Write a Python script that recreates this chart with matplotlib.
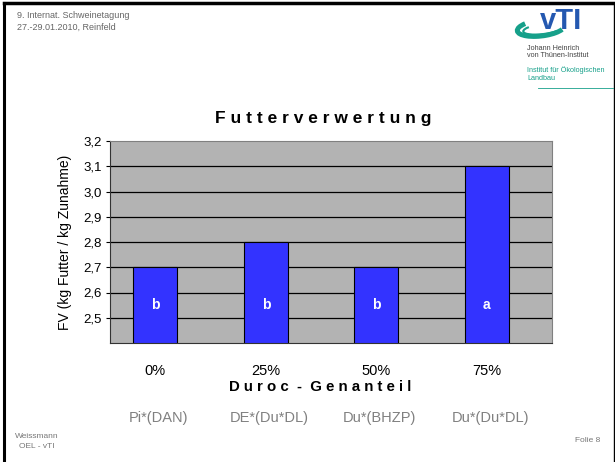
import matplotlib
matplotlib.use("Agg")
import matplotlib.pyplot as plt
from matplotlib.patches import Arc
from matplotlib.transforms import blended_transform_factory
import numpy as np

plt.rcParams['font.family'] = ['Liberation Sans', 'DejaVu Sans']

categories = ["0%", "25%", "50%", "75%"]
values = [2.7, 2.8, 2.7, 3.1]
letters = ["b", "b", "b", "a"]
breeds = ["Pi*(DAN)", "DE*(Du*DL)", "Du*(BHZP)", "Du*(Du*DL)"]
yticks = [2.5, 2.6, 2.7, 2.8, 2.9, 3.0, 3.1, 3.2]

W, H = 615, 462
fig = plt.figure(figsize=(W / 100, H / 100), dpi=100)
fig.patch.set_facecolor("white")

def fx(px):
    return px / W

def fy(py):
    return 1 - py / H

# slide border
fig.add_artist(plt.Line2D([fx(4), fx(4)], [0, fy(3)], color="black", lw=2.2))
fig.add_artist(plt.Line2D([fx(4), fx(614)], [fy(3), fy(3)], color="black", lw=2.5))
fig.add_artist(plt.Line2D([fx(613.5), fx(613.5)], [0, fy(3)], color="black", lw=1.0))

ax = fig.add_axes([fx(110), fy(343), fx(552) - fx(110), fy(141) - fy(343)])
ax.set_facecolor("#b3b3b3")
x = np.arange(len(categories))
ax.set_xlim(-0.41, 3.59)
ax.set_ylim(2.4, 3.2)
ax.set_yticks(yticks)
ax.set_yticklabels([f"{v:.1f}".replace(".", ",") for v in yticks], fontsize=9.5)
for v in yticks[:-1]:
    ax.axhline(v, color="black", lw=0.9, zorder=1)
ax.bar(x, values, width=0.4, color="#3333ff", edgecolor="black", linewidth=0.8, zorder=2)
ymin = ax.get_ylim()[0]
for xi, v, l in zip(x, values, letters):
    ax.text(xi, (ymin + min(values)) / 2, l, color="white", fontsize=10, fontweight="bold",
            ha="center", va="center", zorder=3)
ax.set_xticks(x)
ax.set_xticklabels(categories, fontsize=10.5)
ax.tick_params(axis="x", length=0, pad=15)
ax.tick_params(axis="y", length=3, width=0.8, pad=3)
for s in ["top", "right"]:
    ax.spines[s].set_color("#808080")
for s in ["left", "bottom"]:
    ax.spines[s].set_color("#333333")
ax.set_ylabel("FV (kg Futter / kg Zunahme)", fontsize=10, labelpad=8)

# title and x label
fig.text(fx(323), fy(118), "F u t t e r v e r w e r t u n g", fontsize=12.5, fontweight="bold",
         ha="center", va="center")
fig.text(fx(320), fy(387), "D u r o c  -  G e n a n t e i l", fontsize=10.8, fontweight="bold",
         ha="center", va="center")

# breed labels, centred under the bars
trans = blended_transform_factory(ax.transData, fig.transFigure)
for xi, b in zip(x, breeds):
    ax.text(xi + 0.03, fy(418), b, fontsize=10.5, color="#808080", ha="center", va="center",
            transform=trans, clip_on=False)

# header / footer
fig.text(fx(17), fy(15), "9. Internat. Schweinetagung", fontsize=6.5, color="#666666", va="center")
fig.text(fx(17), fy(27), "27.-29.01.2010, Reinfeld", fontsize=6.5, color="#666666", va="center")
fig.text(fx(15), fy(436), "Weissmann", fontsize=6, color="#777777", va="center")
fig.text(fx(19), fy(447), "OEL - vTI", fontsize=6, color="#777777", va="center")
fig.text(fx(600), fy(441), "Folie 8", fontsize=6, color="#777777", va="center", ha="right")

# logo
teal = "#16a08a"
fig.add_artist(Arc((fx(541), fy(28)), fx(48), 16 / H, angle=10, theta1=150, theta2=345,
                   color=teal, lw=3.5))
fig.add_artist(Arc((fx(543), fy(29)), fx(40), 10 / H, angle=10, theta1=160, theta2=340,
                   color=teal, lw=1.5))
fig.text(fx(561), fy(21), "vTI", fontsize=21, fontweight="bold", color="#2458b0",
         ha="center", va="center")
fig.text(fx(527), fy(48), "Johann Heinrich", fontsize=5.2, color="#444444", va="center")
fig.text(fx(527), fy(55.5), "von Thünen-Institut", fontsize=5.2, color="#444444", va="center")
fig.text(fx(527), fy(70), "Institut für Ökologischen", fontsize=5.2, color=teal, va="center")
fig.text(fx(527), fy(78), "Landbau", fontsize=5.2, color=teal, va="center")
fig.add_artist(plt.Line2D([fx(538), fx(613)], [fy(88), fy(88)], color=teal, lw=0.6))

fig.savefig("out.png", dpi=100)
